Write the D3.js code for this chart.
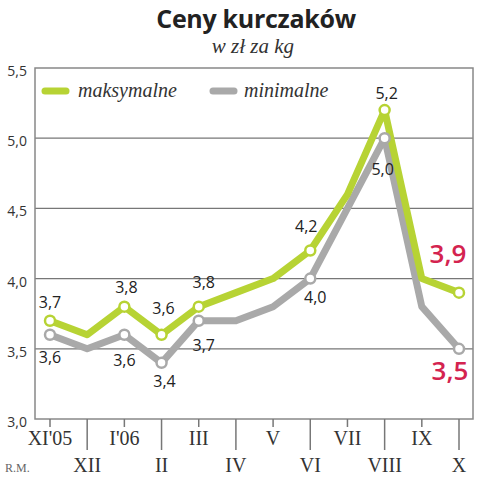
<!DOCTYPE html>
<html><head><meta charset="utf-8">
<script src="https://cdn.jsdelivr.net/npm/d3@7"></script>
<style>body{margin:0;background:#fff}</style>
</head><body>
<svg id="c" width="483" height="480"></svg>
<script>
const months = ["XI'05","XII","I'06","II","III","IV","V","VI","VII","VIII","IX","X"];
const maxValues = [3.7,3.6,3.8,3.6,3.8,3.9,4.0,4.2,4.6,5.2,4.0,3.9];
const minValues = [3.6,3.5,3.6,3.4,3.7,3.7,3.8,4.0,4.5,5.0,3.8,3.5];
const yTicks = [3.0,3.5,4.0,4.5,5.0,5.5];
const labeledIdx = [0,2,3,4,7,9];
const lastIdx = 11;

const svg = d3.select("#c");
const L=35,R=473,T=68,B=419;
const x = d3.scalePoint().domain(months).range([50,459]);
const y = d3.scaleLinear().domain([3,5.5]).range([B,T]);
const fmt = v => d3.format(".1f")(v).replace(".", ",");

const green="#b7d334", gray="#a9a9a9", red="#d4234f";

svg.append("text").attr("x",256).attr("y",28).attr("text-anchor","middle")
  .attr("font-family","Open Sans").attr("font-weight",700).attr("font-size",25).attr("fill","#222")
  .attr("letter-spacing",-0.3)
  .text("Ceny kurczaków");
svg.append("text").attr("x",253).attr("y",53).attr("text-anchor","middle")
  .attr("font-family","Liberation Serif").attr("font-style","italic").attr("font-size",21).attr("fill","#333")
  .text("w zł za kg");

// grid
svg.append("g").selectAll("line").data(yTicks.slice(1,-1)).join("line")
  .attr("x1",L).attr("x2",R).attr("y1",d=>y(d)).attr("y2",d=>y(d))
  .attr("stroke","#777").attr("stroke-width",1.2);
svg.append("rect").attr("x",L).attr("y",T).attr("width",R-L).attr("height",B-T)
  .attr("fill","none").attr("stroke","#888").attr("stroke-width",1.5);

// y labels
svg.append("g").selectAll("text").data(yTicks).join("text")
  .attr("x",27).attr("y",d=>y(d)+8).attr("text-anchor","end")
  .attr("font-family","Open Sans").attr("font-size",14).attr("fill","#333")
  .text(fmt);

// x ticks
svg.append("g").selectAll("line").data(months).join("line")
  .attr("x1",d=>x(d)).attr("x2",d=>x(d)).attr("y1",B)
  .attr("y2",(d,i)=> i%2 ? 450 : 427)
  .attr("stroke","#777").attr("stroke-width",1.5);
svg.append("g").selectAll("text").data(months).join("text")
  .attr("x",d=>x(d)).attr("y",(d,i)=> i%2 ? 472 : 445).attr("text-anchor","middle")
  .attr("font-family","Liberation Serif").attr("font-size",20).attr("fill","#333")
  .text(d=>d);
svg.append("text").attr("x",5).attr("y",472).attr("font-family","Liberation Serif")
  .attr("font-size",12).attr("fill","#666").text("R.M.");

// legend
const leg = [{t:"maksymalne",c:green,x:42,tx:78},{t:"minimalne",c:gray,x:210,tx:244}];
leg.forEach(l=>{
  svg.append("line").attr("x1",l.x+3).attr("x2",l.x+24).attr("y1",91).attr("y2",91)
    .attr("stroke",l.c).attr("stroke-width",7).attr("stroke-linecap","round");
  svg.append("text").attr("x",l.tx).attr("y",97).attr("font-family","Liberation Serif")
    .attr("font-style","italic").attr("font-size",20).attr("fill","#333").text(l.t);
});

const line = d3.line().x((d,i)=>x(months[i])).y(d=>y(d));
[[minValues,gray],[maxValues,green]].forEach(([vals,c])=>{
  svg.append("path").attr("d",line(vals)).attr("fill","none").attr("stroke",c)
    .attr("stroke-width",7).attr("stroke-linejoin","round");
});
[[minValues,gray],[maxValues,green]].forEach(([vals,c])=>{
  svg.append("g").selectAll("circle").data(labeledIdx.concat([lastIdx])).join("circle")
    .attr("cx",i=>x(months[i])).attr("cy",i=>y(vals[i])).attr("r",5)
    .attr("fill","#fff").attr("stroke",c).attr("stroke-width",2.5);
});

// value labels (placement offsets relative to the point)
const maxOff = {0:[0,-13],2:[2,-14],3:[2,-21],4:[5,-19],7:[-4,-19],9:[2,-11]};
const minOff = {0:[0,28],2:[0,31],3:[3,24],4:[5,30],7:[5,24],9:[-2,37]};
const lab = (i,v,o) => svg.append("text").attr("x",x(months[i])+o[0]).attr("y",y(v)+o[1])
  .attr("text-anchor","middle").attr("font-family","Open Sans").attr("font-size",16)
  .attr("fill","#222").text(fmt(v));
labeledIdx.forEach(i=>{
  lab(i,maxValues[i],maxOff[i]);
  lab(i,minValues[i],minOff[i]);
});
svg.append("text").attr("x",448).attr("y",y(maxValues[lastIdx])-30).attr("text-anchor","middle")
  .attr("font-family","Open Sans").attr("font-weight",600).attr("font-size",26).attr("fill",red)
  .text(fmt(maxValues[lastIdx]));
svg.append("text").attr("x",450).attr("y",y(minValues[lastIdx])+31).attr("text-anchor","middle")
  .attr("font-family","Open Sans").attr("font-weight",600).attr("font-size",26).attr("fill",red)
  .text(fmt(minValues[lastIdx]));
</script>
</body></html>
